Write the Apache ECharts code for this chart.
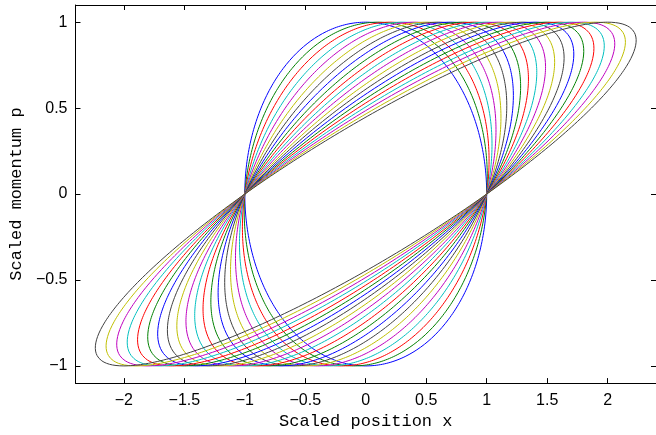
<!DOCTYPE html>
<html>
<head>
<meta charset="utf-8">
<script src="https://cdn.jsdelivr.net/npm/echarts@6/dist/echarts.min.js"></script>
<style>
  html, body { margin: 0; padding: 0; background: #fff; }
  #chart { width: 656px; height: 435px; }
</style>
</head>
<body>
<div id="chart"></div>
<script>
// shear of each curve, read from where it touches p = 1
const shears = [0, 0.1, 0.2, 0.3, 0.4, 0.5, 0.6, 0.7, 0.8, 0.9, 1.0,
  1.1, 1.2, 1.3, 1.4, 1.5, 1.6, 1.7, 1.8, 1.9, 2.0];
const colors = ['#0000ff', '#008000', '#ff0000', '#00bfbf', '#bf00bf', '#bfbf00', '#404040'];
const xTicks = [-2, -1.5, -1, -0.5, 0, 0.5, 1, 1.5, 2];
const yTicks = [-1, -0.5, 0, 0.5, 1];

// each curve is the unit circle sheared along x: x = cos t + s sin t, p = sin t
const curve = (s) => {
  const pts = [];
  const n = 360;
  for (let i = 0; i <= n; i++) {
    const t = (i / n) * 2 * Math.PI;
    pts.push([Math.cos(t) + s * Math.sin(t), Math.sin(t)]);
  }
  return pts;
};

const fmt = (v) => String(v).replace('-', '\u2212');
const tickStyle = { show: true, inside: true, length: 5, lineStyle: { color: '#000' } };
const lineStyle = { show: true, onZero: false, lineStyle: { color: '#000', width: 1 } };

const chart = echarts.init(document.getElementById('chart'));
chart.setOption({
  animation: false,
  grid: { left: 74, top: 5, width: 585, height: 381 },
  xAxis: [
    {
      type: 'value', min: -2.4, max: 2.4,
      axisLine: lineStyle,
      axisTick: { ...tickStyle, customValues: xTicks },
      axisLabel: {
        customValues: xTicks, formatter: fmt, margin: 9,
        color: '#000', fontSize: 16, fontFamily: 'Liberation Sans',
      },
      splitLine: { show: false },
      name: 'Scaled position x', nameLocation: 'middle', nameGap: 27,
      nameTextStyle: { color: '#000', fontSize: 17, fontFamily: 'Liberation Mono' },
    },
    {
      type: 'value', min: -2.4, max: 2.4, position: 'top',
      axisLine: lineStyle,
      axisTick: { ...tickStyle, customValues: xTicks },
      axisLabel: { show: false },
      splitLine: { show: false },
    },
  ],
  yAxis: [
    {
      type: 'value', min: -1.1, max: 1.1,
      axisLine: lineStyle,
      axisTick: { ...tickStyle, customValues: yTicks },
      axisLabel: {
        customValues: yTicks, formatter: fmt, margin: 8,
        color: '#000', fontSize: 16, fontFamily: 'Liberation Sans',
      },
      splitLine: { show: false },
      name: 'Scaled momentum p', nameLocation: 'middle', nameGap: 46,
      nameTextStyle: { color: '#000', fontSize: 17, fontFamily: 'Liberation Mono' },
    },
    {
      type: 'value', min: -1.1, max: 1.1, position: 'right',
      axisLine: lineStyle,
      axisTick: { ...tickStyle, customValues: yTicks },
      axisLabel: { show: false },
      splitLine: { show: false },
    },
  ],
  series: shears.map((s, i) => ({
    type: 'line',
    data: curve(s),
    showSymbol: false,
    silent: true,
    lineStyle: { color: colors[i % colors.length], width: 1 },
  })),
});
</script>
</body>
</html>
